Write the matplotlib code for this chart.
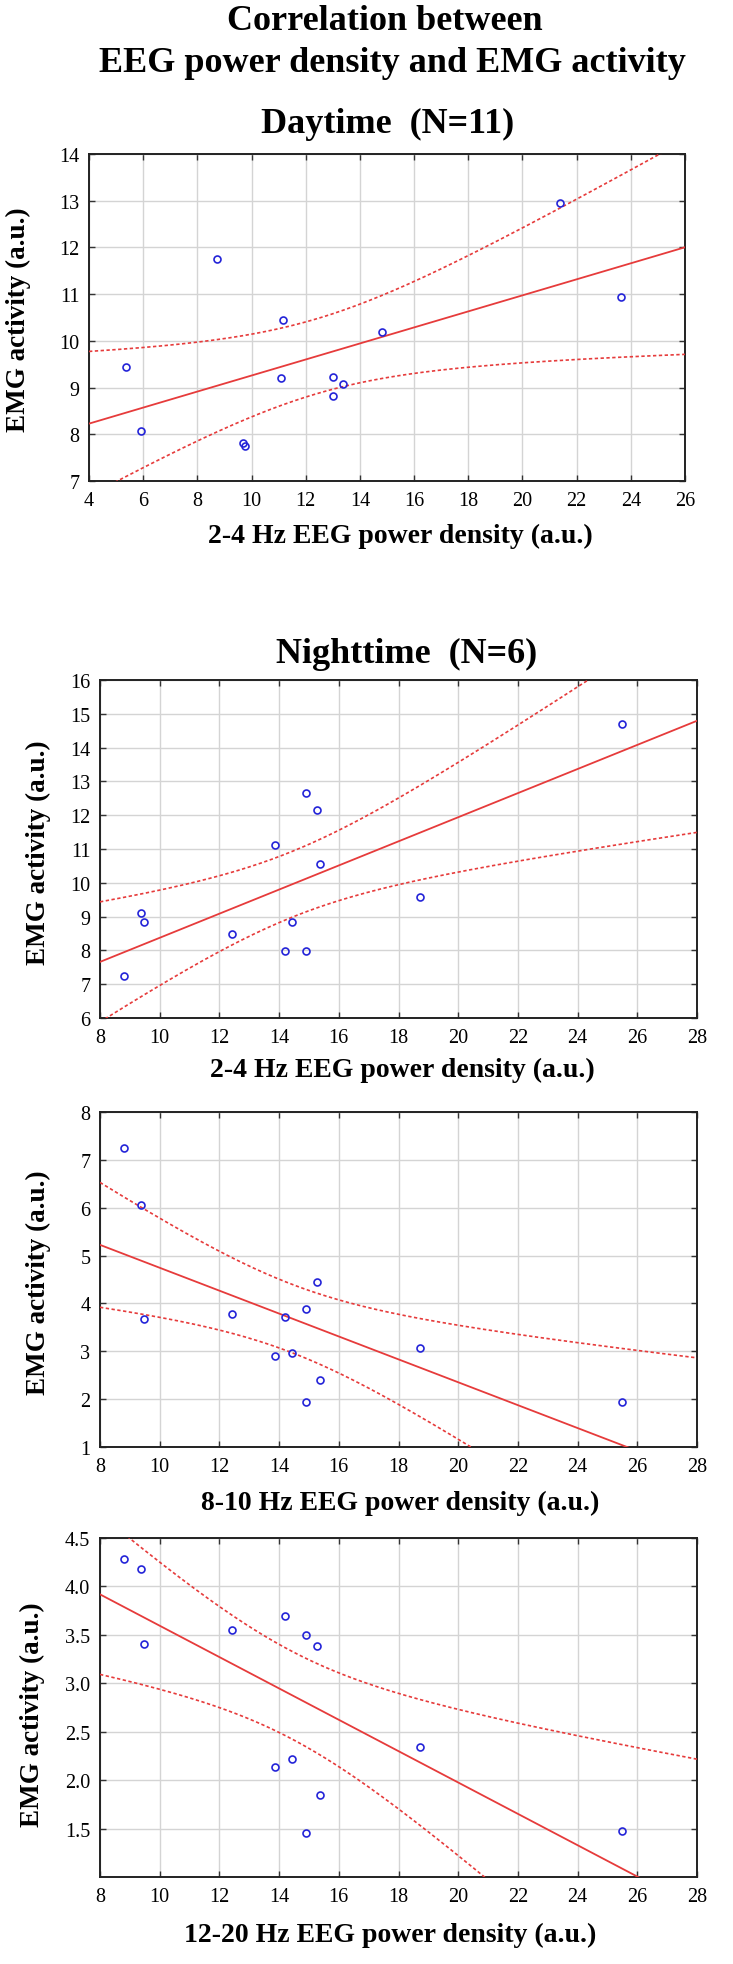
import numpy as np
import matplotlib
matplotlib.use("Agg")
import matplotlib.pyplot as plt

# ── Data ──────────────────────────────────────────────────────────────────────
DAY_EEG = [5.38, 5.93, 8.73, 9.69, 9.76, 11.09, 11.16, 13.01, 12.99, 13.39, 14.80, 21.38, 23.62]
DAY_EMG = [9.44, 8.07, 11.75, 7.81, 7.75, 9.20, 10.44, 9.22, 8.81, 9.08, 10.20, 12.96, 10.93]

NIGHT_EEG = [8.81, 9.39, 9.47, 12.43, 13.87, 14.19, 14.44, 14.91, 14.91, 15.27, 15.36, 18.71, 25.49]
NIGHT_EMG_DELTA = [7.25, 9.11, 8.83, 8.50, 11.12, 7.98, 8.83, 12.65, 7.98, 12.15, 10.57, 9.59, 14.71]
NIGHT_EMG_ALPHA = [7.24, 6.05, 3.67, 3.77, 2.90, 3.72, 2.96, 3.89, 1.93, 4.45, 2.39, 3.07, 1.95]
NIGHT_EMG_SIGMA = [4.28, 4.18, 3.41, 3.55, 2.14, 3.69, 2.22, 3.50, 1.45, 3.38, 1.85, 2.34, 1.47]

T_CRIT = 2.201   # t(0.975, df=11), 13 points per panel

FONT  = "Liberation Serif"
RED   = "#e63b3b"
BLUE  = "#2424d8"
W, H  = 733, 1965

# (x, y, xlim, ylim, yticks, tick fmt, xlabel,
#  axes box l/t/r/b in px, xlabel centre x / baseline y, ylabel baseline x / centre y)
PANELS = [
    (DAY_EEG, DAY_EMG, (4, 26), (7, 14), np.arange(7, 15, 1), "{:.0f}",
     "2-4 Hz EEG power density (a.u.)", (89, 155, 685, 482), (400, 543), (25, 320)),
    (NIGHT_EEG, NIGHT_EMG_DELTA, (8, 28), (6, 16), np.arange(6, 17, 1), "{:.0f}",
     "2-4 Hz EEG power density (a.u.)", (100, 681, 697, 1019), (402, 1077), (45, 853)),
    (NIGHT_EEG, NIGHT_EMG_ALPHA, (8, 28), (1, 8), np.arange(1, 9, 1), "{:.0f}",
     "8-10 Hz EEG power density (a.u.)", (100, 1113, 697, 1448), (400, 1510), (45, 1283)),
    (NIGHT_EEG, NIGHT_EMG_SIGMA, (8, 28), (1.0, 4.5), np.arange(1.5, 4.51, 0.5), "{:.1f}",
     "12-20 Hz EEG power density (a.u.)", (100, 1539, 697, 1878), (390, 1942), (39, 1715)),
]


def fit_with_band(x, y, xs):
    x = np.asarray(x, float)
    y = np.asarray(y, float)
    n = len(x)
    slope, intercept = np.polyfit(x, y, 1)
    resid = y - (slope * x + intercept)
    s = np.sqrt(np.sum(resid ** 2) / (n - 2))
    sxx = np.sum((x - x.mean()) ** 2)
    fit = slope * xs + intercept
    half = T_CRIT * s * np.sqrt(1.0 / n + (xs - x.mean()) ** 2 / sxx)
    return fit, fit - half, fit + half


def draw_panel(fig, x, y, xlim, ylim, yticks, fmt, xlabel, box, xlab, ylab):
    l, t, r, b = box
    ax = fig.add_axes([l / W, 1 - b / H, (r - l) / W, (b - t) / H])

    xs = np.linspace(xlim[0], xlim[1], 300)
    fit, lo, hi = fit_with_band(x, y, xs)
    ax.plot(xs, fit, color=RED, linewidth=1.3, zorder=3)
    ax.plot(xs, lo, color=RED, linewidth=1.2, linestyle=(0, (2.0, 1.5)), zorder=3)
    ax.plot(xs, hi, color=RED, linewidth=1.2, linestyle=(0, (2.0, 1.5)), zorder=3)
    ax.plot(x, y, linestyle="none", marker="o", markersize=5, markerfacecolor="none",
            markeredgecolor=BLUE, markeredgewidth=1.2, zorder=4)

    ax.set_xlim(*xlim)
    ax.set_ylim(*ylim)
    ax.set_xticks(np.arange(xlim[0], xlim[1] + 1, 2))
    ax.set_yticks(yticks)
    ax.set_yticklabels([fmt.format(v) for v in yticks])
    ax.grid(True, color="#d4d4d4", linewidth=1.0)
    ax.set_axisbelow(True)
    ax.tick_params(direction="in", length=4, width=1.0, color="#333333",
                   top=True, right=True, labelsize=14.5, pad=7)
    for lab in ax.get_xticklabels() + ax.get_yticklabels():
        lab.set_fontfamily(FONT)
    for sp in ax.spines.values():
        sp.set_linewidth(1.4)
        sp.set_color("#222222")

    fig.text(xlab[0] / W, 1 - xlab[1] / H, xlabel, ha="center", va="baseline",
             fontsize=20, fontweight="bold", family=FONT)
    fig.text(ylab[0] / W, 1 - ylab[1] / H, "EMG activity (a.u.)", rotation=90,
             rotation_mode="anchor", ha="center", va="baseline",
             fontsize=19.5, fontweight="bold", family=FONT)
    return ax


fig = plt.figure(figsize=(W / 100, H / 100), dpi=100)
fig.patch.set_facecolor("white")

title_kw = dict(ha="center", va="baseline", fontsize=26, fontweight="bold", family=FONT)
fig.text(385 / W, 1 - 30 / H, "Correlation between", **title_kw)
fig.text(392 / W, 1 - 72 / H, "EEG power density and EMG activity", **title_kw)
fig.text(388 / W, 1 - 133 / H, "Daytime  (N=11)", **title_kw)
fig.text(407 / W, 1 - 663 / H, "Nighttime  (N=6)", **title_kw)

for p in PANELS:
    draw_panel(fig, *p)

fig.savefig("out.png", dpi=100, facecolor="white")
